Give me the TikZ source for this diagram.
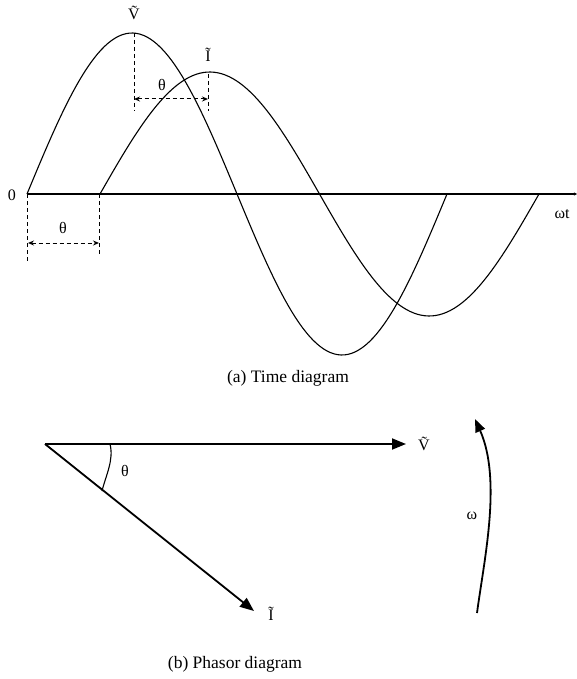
\documentclass[tikz,border=0pt]{standalone}
\usepackage{fontspec}
\setmainfont{Liberation Serif}
\usetikzlibrary{arrows.meta}
\begin{document}
\begin{tikzpicture}[x=1pt,y=-1pt,
  curve/.style={line width=1.1pt},
  dashline/.style={line width=1pt,dash pattern=on 4pt off 3pt},
  dimarrow/.style={line width=1pt,dash pattern=on 4pt off 3pt,{Stealth[length=6pt,width=5pt]}-{Stealth[length=6pt,width=5pt]}},
  phasor/.style={line width=1.8pt,-{Triangle[length=14pt,width=11pt]}},
  lbl/.style={inner sep=1pt,font=\fontsize{16}{18}\selectfont},
  captxt/.style={inner sep=1pt,font=\fontsize{17.5}{20}\selectfont}]
\useasboundingbox (0,0) rectangle (577,679);
% time axis
\coordinate (O) at (27,194);
\coordinate (axend) at (577,194);
\draw[line width=1.1pt,-{Stealth[length=3pt,width=3pt]}] (O) -- (axend);
\node[lbl] (zero) at (12,195) {0};
\node[lbl] (wt) at (562,214) {ωt};
% curves
\draw[curve] plot[domain=0:420,samples=120] ({27+\x},{194-161*sin(\x/210*180)});
\draw[curve] plot[domain=0:439,samples=120] ({100+\x},{194-122*sin(\x/219.5*180)});
% peak markers
\coordinate (vpk) at (134,33);
\coordinate (vlow) at (134,111);
\coordinate (ipk) at (208,74);
\coordinate (ilow) at (208,111);
\draw[dashline] (vpk) -- (vlow);
\draw[dashline] (ipk) -- (ilow);
\coordinate (da) at (134,99);
\coordinate (db) at (208,99);
\draw[dimarrow] (da) -- (db);
\node[lbl] (th1) at (162,85) {θ};
\node[lbl] (Vt) at (134,13) {\~{V}};
\node[lbl] (It) at (208,55) {\~{I}};
% bottom theta
\coordinate (b0) at (27,194);
\coordinate (b0l) at (27,262);
\coordinate (b1) at (99,194);
\coordinate (b1l) at (99,256);
\draw[dashline] (b0) -- (b0l);
\draw[dashline] (b1) -- (b1l);
\coordinate (ea) at (28,243);
\coordinate (eb) at (99,243);
\draw[dimarrow] (ea) -- (eb);
\node[lbl] (th2) at (63,228) {θ};
\node[captxt] (capa) at (288,378) {(a) Time diagram};
% phasor diagram
\coordinate (P) at (45,444);
\coordinate (PV) at (406,444);
\coordinate (PI) at (254,611);
\draw[phasor] (P) -- (PV);
\draw[phasor] (P) -- (PI);
\node[lbl] (Vp) at (424,444) {\~{V}};
\node[lbl] (Ip) at (271,614) {\~{I}};
\draw[line width=1.1pt] (110,444) .. controls (114,460) and (106,475) .. (102,491);
\node[lbl] (th3) at (125,471) {θ};
\coordinate (w0) at (477,613);
\coordinate (w1) at (475,419);
\draw[line width=1.8pt,-{Triangle[length=13pt,width=10pt]}] (w0) .. controls (484,560) and (502,480) .. (w1);
\node[lbl] (om) at (472,516) {ω};
\node[captxt] (capb) at (235,664) {(b) Phasor diagram};
\end{tikzpicture}
\end{document}
